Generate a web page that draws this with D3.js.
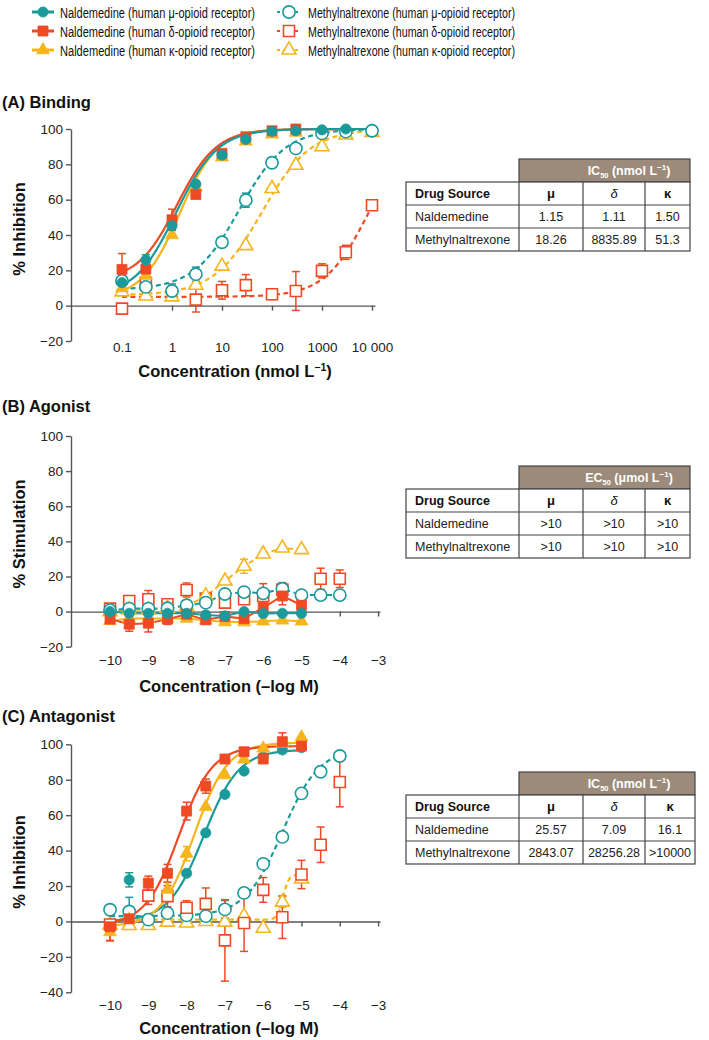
<!DOCTYPE html>
<html><head><meta charset="utf-8">
<script src="https://cdn.jsdelivr.net/npm/d3@7"></script>
<style>
body{margin:0;background:#fff;}
svg{display:block;font-family:"Liberation Sans",Arial,sans-serif;}
</style>
</head><body>
<svg id="c" width="709" height="1040"></svg>
<script>
const COL = {mu:"#1B9A9B", delta:"#EF4A24", kappa:"#F5B51B"};

// ---------- Panel A: Binding (concentration nmol/L) ----------
const concA = [0.1, 0.3, 1, 3, 10, 30, 100, 300, 1000, 3000, 10000];
const naldMuA      = [13, 25.8, 45.2, 68.8, 85.2, 94.1, 98.7, 99, 99.5, 100, null];
const naldDeltaA   = [20.5, 20.7, 48.6, 62.9, 86.2, 95.6, 99, 100, null, null, null];
const naldKappaA   = [10, 17, 40, 67, 84, 93, 97, 98, null, null, null];
const mntxMuA      = [14, 10.6, 8.3, 17.8, 35.9, 59.7, 80.9, 89, 97.5, 98.5, 99];
const mntxDeltaA   = [-1.7, 13, null, 3.4, 8.7, 11.6, 6.5, 8.3, 19.7, 30.2, 56.8];
const mntxKappaA   = [7.8, 5.5, 5, 11.6, 22.4, 34, 66.3, 79.5, 90, 96.6, 98];
const naldMuAErr    = [null, 3, 2, null, null, null, null, null, null, null, null];
const naldDeltaAErr = [9, 6, 6, null, null, null, null, null, null, null, null];
const naldKappaAErr = [null, null, null, null, null, null, null, null, null, null, null];
const mntxMuAErr    = [null, null, 4, 4, null, 4, null, null, null, null, null];
const mntxDeltaAErr = [null, null, null, 7, 5, 6, 3, 11, 4, 4, null];
const mntxKappaAErr = [null, null, null, null, null, null, null, null, null, null, null];
// fitted curve parameters [bottom, top, log10 IC50, Hill slope]
const fitNaldMuA = [5, 100, 0.08, 1.05];
const fitNaldDeltaA = [14, 100, 0.1, 1.1];
const fitNaldKappaA = [4, 100, 0.15, 1.15];
const fitMntxMuA = [9, 100, 1.35, 0.95];
const fitMntxDeltaA = [5, 100, 3.93, 1.0];
const fitMntxKappaA = [6, 100, 1.8, 0.9];
const tickValsA = [0.1, 1, 10, 100, 1000, 10000];
const tickLabelsA = ["0.1", "1", "10", "100", "1000", "10 000"];
const yTicksA = [-20, 0, 20, 40, 60, 80, 100];

// ---------- Panel B: Agonist (log M) ----------
const concB = [-10, -9.5, -9, -8.5, -8, -7.5, -7, -6.5, -6, -5.5, -5, -4.5, -4];
const naldMuB    = [0, -1, -1, -1, -1, -1.9, -2.5, 0, -1.1, -1, -1, null, null];
const naldDeltaB = [-4.3, -7.2, -6.6, -4.3, -1.5, -4.7, -2.8, -4, 2.3, 8.9, 3.6, null, null];
const naldKappaB = [-5.3, -4, -4, -4, -4, -5, -6, -6, -5.5, -5, -5.5, null, null];
const mntxMuB    = [0.8, 1.7, 1.7, 1.9, 3.6, 5.1, 10, 11.1, 10.4, 13, 9.4, 9.4, 9.4];
const mntxDeltaB = [1.7, 6, 7, 4.2, 12.3, 7.4, 5.1, 7, 8.9, 12.5, null, 18.7, 18.7];
const mntxKappaB = [0, 1, 1, 2, 3, 8.9, 17.4, 25.8, 32.8, 36.2, 35.3, null, null];
const naldDeltaBErr = [null, 4, 5, 3, null, null, null, null, null, 5, null, null, null];
const mntxDeltaBErr = [null, 3, 5, 2, 4, 2, 3, null, 7, 4, null, 6, 5];
const mntxKappaBErr = [null, null, null, null, null, null, null, 4, null, null, null, null, null];
const tickValsBC = [-10, -9, -8, -7, -6, -5, -4, -3];
const yTicksB = [-20, 0, 20, 40, 60, 80, 100];

// ---------- Panel C: Antagonist (log M) ----------
const concC = [-10, -9.5, -9, -8.5, -8, -7.5, -7, -6.5, -6, -5.5, -5, -4.5, -4];
const naldMuC    = [null, 23.5, null, null, 27.2, 50, 71.7, 84.9, 93, 96.8, 98.1, null, null];
const naldDeltaC = [-3, 1.5, 21.6, 27.2, 62.3, 76.4, 91.7, 95.8, 91.7, 101.5, 99, null, null];
const naldKappaC = [-6, 1, null, 18, 38.3, 64.7, 82.6, 91.5, 97.7, 100.5, 104, null, null];
const mntxMuC    = [6.6, 5.6, 1, 4.7, 3.4, 3, 6.8, 16.1, 32.5, 47.7, 72.3, 84.5, 93.4];
const mntxDeltaC = [-1.7, null, 14.6, 14.3, 7.7, 9.9, -10.7, -0.9, 17.8, 2.4, 26.5, 43.3, 78.7];
const mntxKappaC = [-2, -2.3, -2.3, -0.4, -0.9, 0, -0.4, 3, -3.8, 10.9, 24, null, null];
const naldMuCErr    = [null, 4, null, null, null, null, null, null, null, null, null, null, null];
const naldDeltaCErr = [8, null, 4, 5, 5, 4, null, null, null, 5, null, null, null];
const naldKappaCErr = [null, null, null, 4, 4, null, null, null, null, null, null, null, null];
const mntxMuCErr    = [null, 8, 3, null, null, null, 5, null, null, null, null, null, null];
const mntxDeltaCErr = [9, null, 5, 6, 4, 9, 23, 16, 7, 12, 8, 10, 14];
const mntxKappaCErr = [null, null, null, null, null, null, null, null, null, 3, null, null, null];
const fitNaldMuC = [0, 97, -7.55, 0.95];
const fitNaldDeltaC = [-2, 99, -8.2, 1.0];
const fitNaldKappaC = [-3, 101, -7.8, 1.0];
const fitMntxMuC = [3, 98, -5.5, 0.9];
const fitMntxKappaC = [1, 26.5, -5.48, 6];
const yTicksC = [-40, -20, 0, 20, 40, 60, 80, 100];

// ---------- Tables ----------
const tableCols = ["Drug Source", "μ", "δ", "κ"];
const tableDrugs = ["Naldemedine", "Methylnaltrexone"];
const tableA = [["1.15", "1.11", "1.50"], ["18.26", "8835.89", "51.3"]];
const tableB = [[">10", ">10", ">10"], [">10", ">10", ">10"]];
const tableC = [["25.57", "7.09", "16.1"], ["2843.07", "28256.28", ">10000"]];

// ---------- Legend ----------
const legendLabels = [
  "Naldemedine (human μ-opioid receptor)", "Naldemedine (human δ-opioid receptor)", "Naldemedine (human κ-opioid receptor)",
  "Methylnaltrexone (human μ-opioid receptor)", "Methylnaltrexone (human δ-opioid receptor)", "Methylnaltrexone (human κ-opioid receptor)"
];

const svg = d3.select("#c");
const AXC = "#555";
const fmtMinus = d => d < 0 ? "\u2212" + Math.abs(d) : String(d);

function marker(g, shape, filled, color, x, y) {
  const sizes = filled ? {circle: 82, square: 100, triangle: 72} : {circle: 118, square: 121, triangle: 84};
  const type = shape === "circle" ? d3.symbolCircle : shape === "square" ? d3.symbolSquare : d3.symbolTriangle;
  g.append("path").attr("d", d3.symbol().type(type).size(sizes[shape])())
    .attr("transform", `translate(${x},${y})`)
    .attr("fill", filled ? color : "#fff")
    .attr("stroke", color).attr("stroke-width", filled ? 0.8 : 1.6);
}

function logistic(p, lx) { return p[0] + (p[1] - p[0]) / (1 + Math.pow(10, p[3] * (p[2] - lx))); }

function yAxis(g, y, ticks, x0) {
  const a = g.append("g").attr("transform", `translate(${x0},0)`)
    .call(d3.axisLeft(y).tickValues(ticks).tickSize(5).tickSizeOuter(0).tickFormat(fmtMinus));
  a.select(".domain").attr("stroke", AXC).attr("stroke-width", 1.4);
  a.selectAll(".tick line").attr("stroke", AXC).attr("stroke-width", 1.4);
  a.selectAll(".tick text").attr("font-size", 13.5).attr("fill", "#222").attr("font-family", "Liberation Sans, Arial, sans-serif");
}
function xAxis(g, x, y0, ticks, fmt, labelOffset) {
  const a = g.append("g").attr("transform", `translate(0,${y0})`)
    .call(d3.axisBottom(x).tickValues(ticks).tickSize(5).tickSizeOuter(0).tickFormat(fmt));
  a.select(".domain").attr("stroke", AXC).attr("stroke-width", 1.4);
  a.selectAll(".tick line").attr("stroke", AXC).attr("stroke-width", 1.4);
  a.selectAll(".tick text").attr("y", labelOffset).attr("dy", "0.35em").attr("font-size", 13.5).attr("fill", "#222")
    .attr("font-family", "Liberation Sans, Arial, sans-serif");
}
function axisTitle(g, x, y, main, sup, tail) {
  const t = g.append("text").attr("x", x).attr("y", y).attr("text-anchor", "middle")
    .attr("font-size", 16.5).attr("font-weight", "bold").attr("fill", "#111");
  t.append("tspan").text(main);
  if (sup) {
    t.append("tspan").attr("font-size", 10.5).attr("dy", -6).text(sup);
    t.append("tspan").attr("dy", 6).text(tail);
  }
}
function yTitle(g, x, y, txt) {
  g.append("text").attr("transform", `translate(${x},${y}) rotate(-90)`).attr("text-anchor", "middle")
    .attr("font-size", 16.5).attr("font-weight", "bold").attr("fill", "#111").text(txt);
}
function panelTitle(g, y, txt) {
  g.append("text").attr("x", 2).attr("y", y).attr("font-size", 16.5).attr("font-weight", "bold").attr("fill", "#111").text(txt);
}

function drawSeries(g, x, y, conc, s, mode) {
  const pts = conc.map((c, i) => ({c, v: s.vals[i], e: s.err ? s.err[i] : null})).filter(d => d.v != null);
  const eg = g.append("g").attr("stroke", s.color).attr("stroke-width", 1.5);
  pts.filter(d => d.e != null).forEach(d => {
    const xx = x(d.c), y1 = y(d.v - d.e), y2 = y(d.v + d.e);
    eg.append("line").attr("x1", xx).attr("x2", xx).attr("y1", y1).attr("y2", y2);
    eg.append("line").attr("x1", xx - 4).attr("x2", xx + 4).attr("y1", y1).attr("y2", y1);
    eg.append("line").attr("x1", xx - 4).attr("x2", xx + 4).attr("y1", y2).attr("y2", y2);
  });
  if (s.fit) {
    const [lo, hi] = s.range;
    const n = 120;
    const lxs = d3.range(n + 1).map(i => lo + (hi - lo) * i / n);
    const line = d3.line().x(lx => x(mode === "log" ? Math.pow(10, lx) : lx)).y(lx => y(logistic(s.fit, lx)));
    g.append("path").attr("d", line(lxs)).attr("fill", "none").attr("stroke", s.color).attr("stroke-width", 2.2)
      .attr("stroke-dasharray", s.dashed ? "5,3.5" : null);
  } else if (s.connect) {
    const line = d3.line().x(d => x(d.c)).y(d => y(d.v));
    g.append("path").attr("d", line(pts)).attr("fill", "none").attr("stroke", s.color).attr("stroke-width", 2)
      .attr("stroke-dasharray", s.dashed ? "5,3.5" : null);
  }
}
function drawMarkers(g, x, y, conc, s) {
  conc.forEach((c, i) => { if (s.vals[i] != null) marker(g, s.shape, s.filled, s.color, x(c), y(s.vals[i])); });
}

// ---------- Legend ----------
(function () {
  const g = svg.append("g");
  const shapes = ["circle", "square", "triangle"], cols = [COL.mu, COL.delta, COL.kappa];
  const rowsY = [12, 31, 50];
  for (let i = 0; i < 3; i++) {
    g.append("line").attr("x1", 32).attr("x2", 54).attr("y1", rowsY[i]).attr("y2", rowsY[i]).attr("stroke", cols[i]).attr("stroke-width", 3);
    marker(g, shapes[i], true, cols[i], 43, rowsY[i]);
    g.append("text").attr("x", 60).attr("y", rowsY[i] + 5.5).attr("font-size", 15.5).attr("fill", "#111")
      .attr("textLength", 195).attr("lengthAdjust", "spacingAndGlyphs").text(legendLabels[i]);
    g.append("line").attr("x1", 277).attr("x2", 301).attr("y1", rowsY[i]).attr("y2", rowsY[i]).attr("stroke", cols[i]).attr("stroke-width", 2.2).attr("stroke-dasharray", "3,3");
    marker(g, shapes[i], false, cols[i], 289, rowsY[i]);
    g.append("text").attr("x", 308).attr("y", rowsY[i] + 5.5).attr("font-size", 15.5).attr("fill", "#111")
      .attr("textLength", 207).attr("lengthAdjust", "spacingAndGlyphs").text(legendLabels[i + 3]);
  }
})();

// ---------- Panel A ----------
(function () {
  const g = svg.append("g");
  const x = d3.scaleLog().domain([Math.pow(10, -2.02), Math.pow(10, 4.06)]).range([71, 375]);
  const y = d3.scaleLinear().domain([-20, 100]).range([341, 129]);
  panelTitle(g, 108, "(A) Binding");
  yAxis(g, y, yTicksA, 71);
  xAxis(g, x, y(0), tickValsA, (d, i) => tickLabelsA[i], 41.7);
  axisTitle(g, 235, 377, "Concentration (nmol L", "\u22121", ")");
  yTitle(g, 25, 229, "% Inhibition");
  const R = [-1, 4];
  const series = [
    {vals: mntxDeltaA, err: mntxDeltaAErr, color: COL.delta, shape: "square", filled: false, dashed: true, fit: fitMntxDeltaA, range: R},
    {vals: mntxKappaA, err: mntxKappaAErr, color: COL.kappa, shape: "triangle", filled: false, dashed: true, fit: fitMntxKappaA, range: R},
    {vals: mntxMuA, err: mntxMuAErr, color: COL.mu, shape: "circle", filled: false, dashed: true, fit: fitMntxMuA, range: R},
    {vals: naldKappaA, err: naldKappaAErr, color: COL.kappa, shape: "triangle", filled: true, dashed: false, fit: fitNaldKappaA, range: R},
    {vals: naldDeltaA, err: naldDeltaAErr, color: COL.delta, shape: "square", filled: true, dashed: false, fit: fitNaldDeltaA, range: R},
    {vals: naldMuA, err: naldMuAErr, color: COL.mu, shape: "circle", filled: true, dashed: false, fit: fitNaldMuA, range: R}
  ];
  series.forEach(s => drawSeries(g, x, y, concA, s, "log"));
  series.forEach(s => drawMarkers(g, x, y, concA, s));
})();

// ---------- Panel B ----------
(function () {
  const g = svg.append("g");
  const x = d3.scaleLinear().domain([-11.02, -2.95]).range([71, 380]);
  const y = d3.scaleLinear().domain([-20, 100]).range([646.7, 436]);
  panelTitle(g, 412, "(B) Agonist");
  yAxis(g, y, yTicksB, 71);
  xAxis(g, x, y(0), tickValsBC, fmtMinus, 49);
  axisTitle(g, 229, 692, "Concentration (\u2013log M)");
  yTitle(g, 25, 534, "% Stimulation");
  const series = [
    {vals: mntxDeltaB, err: mntxDeltaBErr, color: COL.delta, shape: "square", filled: false, dashed: true, connect: false},
    {vals: mntxKappaB, err: mntxKappaBErr, color: COL.kappa, shape: "triangle", filled: false, dashed: true, connect: true},
    {vals: mntxMuB, err: null, color: COL.mu, shape: "circle", filled: false, dashed: true, connect: true},
    {vals: naldKappaB, err: null, color: COL.kappa, shape: "triangle", filled: true, dashed: false, connect: true},
    {vals: naldDeltaB, err: naldDeltaBErr, color: COL.delta, shape: "square", filled: true, dashed: false, connect: true},
    {vals: naldMuB, err: null, color: COL.mu, shape: "circle", filled: true, dashed: false, connect: true}
  ];
  series.forEach(s => drawSeries(g, x, y, concB, s, "lin"));
  series.forEach(s => drawMarkers(g, x, y, concB, s));
})();

// ---------- Panel C ----------
(function () {
  const g = svg.append("g");
  const x = d3.scaleLinear().domain([-11.02, -2.95]).range([71, 380]);
  const y = d3.scaleLinear().domain([-40, 100]).range([992.3, 744.3]);
  panelTitle(g, 722, "(C) Antagonist");
  yAxis(g, y, yTicksC, 71);
  xAxis(g, x, y(0), tickValsBC, fmtMinus, 84);
  axisTitle(g, 229, 1034, "Concentration (\u2013log M)");
  yTitle(g, 25, 862, "% Inhibition");
  const series = [
    {vals: mntxKappaC, err: mntxKappaCErr, color: COL.kappa, shape: "triangle", filled: false, dashed: true, fit: fitMntxKappaC, range: [-10, -5]},
    {vals: mntxMuC, err: mntxMuCErr, color: COL.mu, shape: "circle", filled: false, dashed: true, fit: fitMntxMuC, range: [-10, -4]},
    {vals: mntxDeltaC, err: mntxDeltaCErr, color: COL.delta, shape: "square", filled: false, dashed: true},
    {vals: naldMuC, err: naldMuCErr, color: COL.mu, shape: "circle", filled: true, dashed: false, fit: fitNaldMuC, range: [-10, -5]},
    {vals: naldKappaC, err: naldKappaCErr, color: COL.kappa, shape: "triangle", filled: true, dashed: false, fit: fitNaldKappaC, range: [-10, -5]},
    {vals: naldDeltaC, err: naldDeltaCErr, color: COL.delta, shape: "square", filled: true, dashed: false, fit: fitNaldDeltaC, range: [-10, -5]}
  ];
  series.forEach(s => drawSeries(g, x, y, concC, s, "lin"));
  series.forEach(s => drawMarkers(g, x, y, concC, s));
})();

// ---------- Tables ----------
function drawTable(top, right, headerMain, headerTail, rows) {
  const g = svg.append("g");
  const xs = [406, 519, 583, 645, right];
  const rh = 23;
  const bodyTop = top + rh;
  const bottom = bodyTop + rh * 3;
  g.append("rect").attr("x", xs[1]).attr("y", top).attr("width", right - xs[1]).attr("height", rh)
    .attr("fill", "#9C8B7A").attr("stroke", "#444").attr("stroke-width", 1.2);
  const ht = g.append("text").attr("x", 629).attr("y", top + 16).attr("text-anchor", "middle")
    .attr("font-size", 12.5).attr("font-weight", "bold").attr("fill", "#fff");
  ht.append("tspan").text(headerMain);
  ht.append("tspan").attr("font-size", 7.5).attr("dy", 2.5).text("50");
  ht.append("tspan").attr("dy", -2.5).text(headerTail);
  ht.append("tspan").attr("font-size", 8).attr("dy", -5).text("\u22121");
  ht.append("tspan").attr("dy", 5).text(")");
  g.append("rect").attr("x", xs[0]).attr("y", bodyTop).attr("width", right - xs[0]).attr("height", rh * 3)
    .attr("fill", "#fff").attr("stroke", "#444").attr("stroke-width", 1.2);
  for (let r = 1; r < 3; r++) g.append("line").attr("x1", xs[0]).attr("x2", right).attr("y1", bodyTop + r * rh).attr("y2", bodyTop + r * rh).attr("stroke", "#444").attr("stroke-width", 1.2);
  for (let c = 1; c < 4; c++) g.append("line").attr("x1", xs[c]).attr("x2", xs[c]).attr("y1", bodyTop).attr("y2", bottom).attr("stroke", "#444").attr("stroke-width", 1.2);
  const cx = c => (xs[c] + xs[c + 1]) / 2;
  g.append("text").attr("x", 415).attr("y", bodyTop + 16).attr("font-size", 12.5).attr("font-weight", "bold").attr("fill", "#111").text(tableCols[0]);
  for (let c = 1; c < 4; c++) g.append("text").attr("x", cx(c)).attr("y", bodyTop + 16).attr("text-anchor", "middle")
    .attr("font-size", 13).attr("font-weight", c === 2 ? "normal" : "bold").attr("font-style", c === 2 ? "italic" : null).attr("fill", "#111").text(tableCols[c]);
  rows.forEach((row, r) => {
    const yy = bodyTop + rh * (r + 1) + 16;
    g.append("text").attr("x", 415).attr("y", yy).attr("font-size", 12.5).attr("fill", "#222").text(tableDrugs[r]);
    row.forEach((v, c) => g.append("text").attr("x", cx(c + 1)).attr("y", yy).attr("text-anchor", "middle")
      .attr("font-size", 12.5).attr("fill", "#222").text(v));
  });
}
drawTable(159, 690, "IC", " (nmol L", tableA);
drawTable(466, 690, "EC", " (μmol L", tableB);
drawTable(772, 695, "IC", " (nmol L", tableC);
</script>
</body></html>
